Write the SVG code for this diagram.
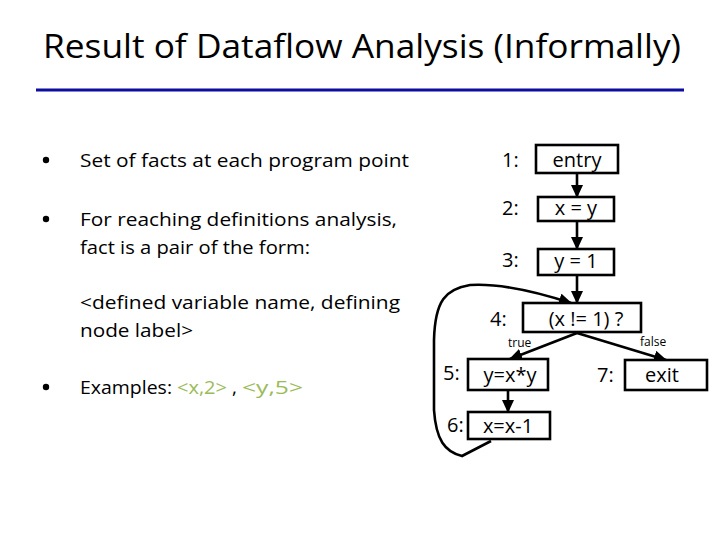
<svg xmlns="http://www.w3.org/2000/svg" width="720" height="540" viewBox="0 0 720 540">
<style>
text{font-family:"Open Sans","Liberation Sans",sans-serif;fill:#000}
.title{font-size:32px}
.body{font-size:19px}
.lbl{font-size:20px}
.small{font-size:12px}
.green{fill:#9bbb59}
.box{fill:#fff;stroke:#000;stroke-width:2.6}
.edge{fill:none;stroke:#000;stroke-width:2.6}
</style>
<defs>
<marker id="ah" markerUnits="userSpaceOnUse" markerWidth="13" markerHeight="12" viewBox="0 0 13 12" refX="12" refY="6" orient="auto">
<path d="M0,0 L13,6 L0,12 Z" fill="#000"/>
</marker>
</defs>
<rect width="720" height="540" fill="#fff"/>
<text class="title" x="43" y="58" textLength="638" lengthAdjust="spacingAndGlyphs">Result of Dataflow Analysis (Informally)</text>
<line x1="36" y1="90" x2="684" y2="90" stroke="#0d0da0" stroke-width="3"/>
<g id="bullets">
<circle cx="46" cy="160" r="3.2"/>
<text class="body" x="80" y="167" textLength="329" lengthAdjust="spacingAndGlyphs">Set of facts at each program point</text>
<circle cx="46" cy="219" r="3.2"/>
<text class="body" x="80" y="226" textLength="317" lengthAdjust="spacingAndGlyphs">For reaching definitions analysis,</text>
<text class="body" x="80" y="254" textLength="230" lengthAdjust="spacingAndGlyphs">fact is a pair of the form:</text>
<text class="body" x="80" y="309" textLength="320" lengthAdjust="spacingAndGlyphs">&lt;defined variable name, defining</text>
<text class="body" x="80" y="337" textLength="113" lengthAdjust="spacingAndGlyphs">node label&gt;</text>
<circle cx="46" cy="387" r="3.2"/>
<text class="body" x="80" y="394" textLength="92" lengthAdjust="spacingAndGlyphs">Examples:</text>
<text class="body green" x="177" y="394" textLength="50" lengthAdjust="spacingAndGlyphs">&lt;x,2&gt;</text>
<text class="body" x="232" y="394">,</text>
<text class="body green" x="242" y="394" textLength="61" lengthAdjust="spacingAndGlyphs">&lt;y,5&gt;</text>
</g>
<g id="connectors">
<line class="edge" x1="577" y1="174" x2="577" y2="197" marker-end="url(#ah)"/>
<line class="edge" x1="577" y1="222" x2="577" y2="249" marker-end="url(#ah)"/>
<line class="edge" x1="577" y1="275" x2="577" y2="303" marker-end="url(#ah)"/>
<line class="edge" x1="577" y1="333" x2="510" y2="359" marker-end="url(#ah)"/>
<line class="edge" x1="577" y1="333" x2="666" y2="360" marker-end="url(#ah)"/>
<line class="edge" x1="508" y1="390" x2="508" y2="412" marker-end="url(#ah)"/>
<path class="edge" d="M491,441 L462,456 C445,452 436,440 434,410 L434,340 C435,300 446,289 470,285 C500,283 540,293 571,303" marker-end="url(#ah)"/>
<text class="small" x="508" y="347">true</text>
<text class="small" x="640" y="346">false</text>
</g>
<g id="n1">
<rect class="box" x="536" y="145" width="82" height="28"/>
<text class="lbl" x="502" y="167">1:</text>
<text class="lbl" x="577" y="167" text-anchor="middle">entry</text>
</g>
<g id="n2">
<rect class="box" x="538" y="197" width="76" height="24"/>
<text class="lbl" x="502" y="215">2:</text>
<text class="lbl" x="576" y="215" text-anchor="middle">x = y</text>
</g>
<g id="n3">
<rect class="box" x="538" y="249" width="76" height="26"/>
<text class="lbl" x="502" y="267">3:</text>
<text class="lbl" x="576" y="268" text-anchor="middle">y = 1</text>
</g>
<g id="n4">
<rect class="box" x="523" y="303" width="118" height="29"/>
<text class="lbl" x="490" y="326">4:</text>
<text class="lbl" x="586" y="326" text-anchor="middle">(x != 1) ?</text>
</g>
<g id="n5">
<rect class="box" x="468" y="359" width="80" height="31"/>
<text class="lbl" x="443" y="380">5:</text>
<text class="lbl" x="510" y="382" text-anchor="middle">y=x*y</text>
</g>
<g id="n6">
<rect class="box" x="468" y="412" width="82" height="27"/>
<text class="lbl" x="447" y="432">6:</text>
<text class="lbl" x="508" y="433" text-anchor="middle">x=x-1</text>
</g>
<g id="n7">
<rect class="box" x="625" y="360" width="82" height="30"/>
<text class="lbl" x="597" y="382">7:</text>
<text class="lbl" x="662" y="382" text-anchor="middle">exit</text>
</g>
</svg>
